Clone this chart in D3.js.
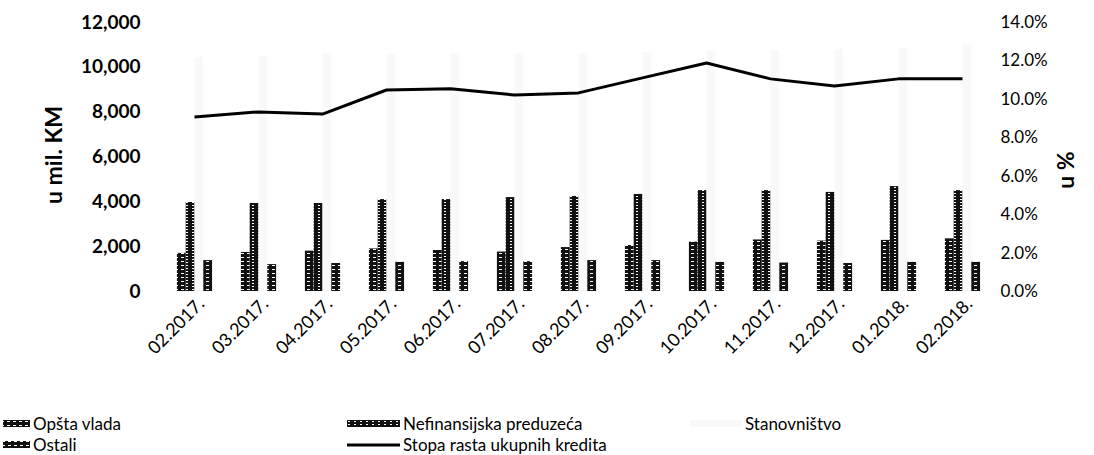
<!DOCTYPE html>
<html><head><meta charset="utf-8">
<script src="https://cdn.jsdelivr.net/npm/d3@7"></script>
<style>
html,body{margin:0;padding:0;background:#fff;}
text{font-family:Lato,"Open Sans",sans-serif;fill:#000;}
</style></head>
<body>
<svg id="chart" width="1094" height="455"></svg>
<script>
// ---- data ----
const categories = ["02.2017.","03.2017.","04.2017.","05.2017.","06.2017.","07.2017.","08.2017.","09.2017.","10.2017.","11.2017.","12.2017.","01.2018.","02.2018."];
const opstaVlada = [1700,1740,1800,1900,1830,1760,1960,2050,2200,2300,2250,2280,2350];
const nefinansijska = [3970,3925,3925,4100,4100,4190,4240,4330,4500,4500,4420,4680,4500];
const stanovnistvo = [10440,10500,10620,10580,10620,10600,10600,10660,10700,10750,10800,10850,11000];
const ostali = [1380,1200,1250,1300,1330,1330,1380,1380,1300,1270,1250,1300,1300];
const stopaRasta = [9.06,9.32,9.21,10.46,10.52,10.20,10.31,11.09,11.87,11.04,10.67,11.04,11.04];
const leftTicks = [0,2000,4000,6000,8000,10000,12000];
const rightTicks = [0,2,4,6,8,10,12,14];
const seriesNames = ["Opšta vlada","Nefinansijska preduzeća","Stanovništvo","Ostali"];
const lineName = "Stopa rasta ukupnih kredita";

const svg = d3.select("#chart");
const defs = svg.append("defs");
function stripe(id, gap, dash){
  const p = defs.append("pattern").attr("id",id).attr("patternUnits","userSpaceOnUse")
    .attr("width",6).attr("height",gap);
  p.append("rect").attr("width",6).attr("height",gap).attr("fill","#111");
  p.append("rect").attr("x",dash[0]).attr("y",1).attr("width",dash[1]).attr("height",1).attr("fill","#fff");
}
stripe("pOV",4,[1,3]);
stripe("pNF",3,[0,2]);
stripe("pOS",4,[2,3]);
const fills = ["url(#pOV)","url(#pNF)","#f9f9f9","url(#pOS)"];

const x0 = d3.scaleBand().domain(categories).range([162.5,994.5]).paddingInner(0.45).paddingOuter(0.225);
const x1 = d3.scaleBand().domain(seriesNames).range([0,x0.bandwidth()]);
const y = d3.scaleLinear().domain([0,12000]).range([291,22]);
const y2 = d3.scaleLinear().domain([0,14]).range([291,22]);

const seriesData = [opstaVlada,nefinansijska,stanovnistvo,ostali];

// bars
seriesData.forEach((vals,si)=>{
  svg.append("g").selectAll("rect").data(vals).join("rect")
    .attr("x",(d,i)=>x0(categories[i])+x1(seriesNames[si]))
    .attr("y",d=>y(d))
    .attr("width",x1.bandwidth())
    .attr("height",d=>y(0)-y(d))
    .attr("fill",fills[si]);
});

// line
const line = d3.line().x((d,i)=>x0(categories[i])+x0.bandwidth()/2).y(d=>y2(d));
svg.append("path").datum(stopaRasta).attr("d",line).attr("fill","none")
  .attr("stroke","#000").attr("stroke-width",3).attr("stroke-linejoin","round");

// axes
const ax = svg.append("g").attr("transform","translate(162.5,0)")
  .call(d3.axisLeft(y).tickValues(leftTicks).tickFormat(d3.format(",")).tickSize(0).tickPadding(22));
ax.select(".domain").remove();
ax.selectAll("text").style("font-family","Lato, sans-serif").style("font-size","19px").style("font-weight","bold");

const ax2 = svg.append("g").attr("transform","translate(994.5,0)")
  .call(d3.axisRight(y2).tickValues(rightTicks).tickFormat(d=>d.toFixed(1)+"%").tickSize(0).tickPadding(6));
ax2.select(".domain").remove();
ax2.selectAll("text").style("font-family","Lato, sans-serif").style("font-size","17px");

// x labels
const xa = svg.append("g").attr("transform","translate(0,291)")
  .call(d3.axisBottom(x0).tickSize(0).tickPadding(0));
xa.select(".domain").remove();
xa.selectAll("text").attr("text-anchor","end").attr("dy",0).attr("y",0)
  .attr("transform","translate(11,14) rotate(-45)")
  .style("font-family","Lato, sans-serif").style("font-size","18px");

// axis titles
svg.append("text").attr("transform","translate(62,155) rotate(-90)").attr("text-anchor","middle")
  .style("font-size","23px").style("font-weight","bold").text("u mil. KM");
svg.append("text").attr("transform","translate(1074,170) rotate(-90)").attr("text-anchor","middle")
  .style("font-size","23px").style("font-weight","bold").text("u %");

// legend
const legendItems = [
  {name:seriesNames[0], type:"bar", fill:fills[0], x:3, w:27, y:425},
  {name:seriesNames[1], type:"bar", fill:fills[1], x:347, w:53, y:425},
  {name:seriesNames[2], type:"bar", fill:fills[2], x:690, w:52, y:425},
  {name:seriesNames[3], type:"bar", fill:fills[3], x:3, w:27, y:446},
  {name:lineName, type:"line", x:347, w:53, y:446}
];
const lg = svg.append("g");
legendItems.forEach(it=>{
  if(it.type==="bar"){
    lg.append("rect").attr("x",it.x).attr("y",it.y-5).attr("width",it.w).attr("height",7).attr("fill",it.fill);
  } else {
    lg.append("line").attr("x1",it.x).attr("x2",it.x+it.w).attr("y1",it.y-1).attr("y2",it.y-1)
      .attr("stroke","#000").attr("stroke-width",3);
  }
  lg.append("text").attr("x",it.x+it.w+3).attr("y",it.y+5).style("font-size","17px").text(it.name);
});
</script>
</body></html>
